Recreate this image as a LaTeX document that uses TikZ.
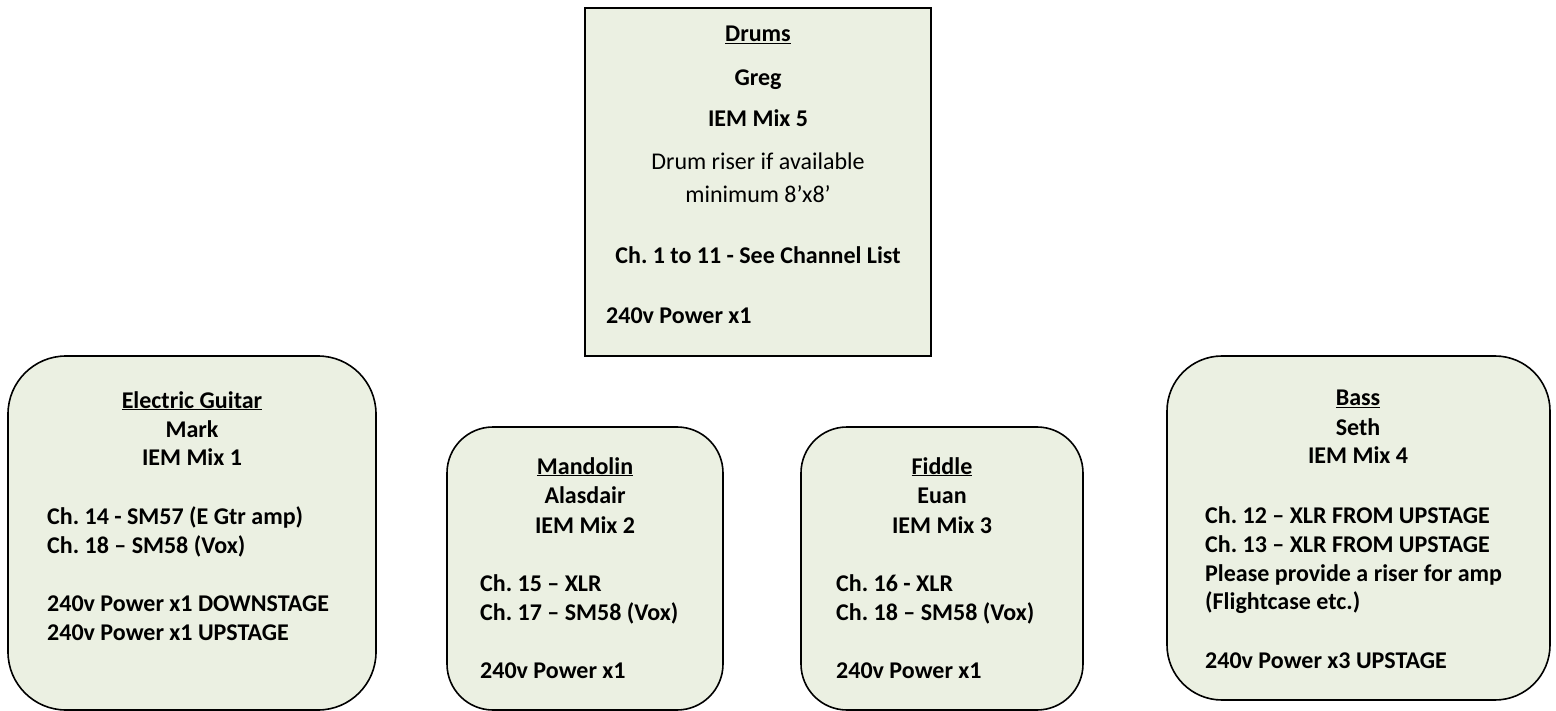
\documentclass[tikz,border=0pt]{standalone}
\usepackage{fontspec}
\setmainfont{Carlito}
\definecolor{boxfill}{RGB}{235,240,226}
\frenchspacing
\begin{document}
\begin{tikzpicture}[x=1pt,y=-1pt,
  box/.style={draw=black,line width=1.6pt,fill=boxfill,inner sep=0pt,outer sep=0pt,anchor=north west},
  ctxt/.style={anchor=base,inner sep=0pt,font=\fontsize{24}{28}\selectfont\bfseries},
  ltxt/.style={anchor=base west,inner sep=0pt,font=\fontsize{24}{28}\selectfont\bfseries},
  rtxt/.style={anchor=base,inner sep=0pt,font=\fontsize{24}{28}\selectfont}]
\useasboundingbox (0,0) rectangle (1556,711);
\fill[white] (0,0) rectangle (1556,711);
% boxes
\node[box,minimum width=346pt,minimum height=348pt] (drums) at (585,8) {};
\node[box,rounded corners=58pt,minimum width=368pt,minimum height=354pt] (gtr) at (8,356) {};
\node[box,rounded corners=46pt,minimum width=276pt,minimum height=283pt] (mand) at (447,427) {};
\node[box,rounded corners=46pt,minimum width=282pt,minimum height=283pt] (fid) at (801,427) {};
\node[box,rounded corners=55pt,minimum width=383pt,minimum height=344pt] (bass) at (1167,356) {};
% drums text
\node[ctxt] (d1) at (758,42) {\underline{Drums}};
\node[ctxt] (d2) at (758,86) {Greg};
\node[ctxt] (d3) at (758,127) {IEM Mix 5};
\node[rtxt] (d4) at (758,170) {Drum riser if available};
\node[rtxt] (d5) at (758,203) {minimum 8’x8’};
\node[ctxt] (d6) at (758,264) {Ch. 1 to 11 - See Channel List};
\node[ltxt] (d7) at (606,324) {240v Power x1};
% guitar text
\node[ctxt] (g1) at (192,408) {\underline{Electric Guitar}};
\node[ctxt] (g2) at (192,437) {Mark};
\node[ctxt] (g3) at (192,465) {IEM Mix 1};
\node[ltxt] (g4) at (47,524) {Ch. 14 - SM57 (E Gtr amp)};
\node[ltxt] (g5) at (47,553) {Ch. 18 – SM58 (Vox)};
\node[ltxt] (g6) at (47,611) {240v Power x1 DOWNSTAGE};
\node[ltxt] (g7) at (47,640) {240v Power x1 UPSTAGE};
% mandolin text
\node[ctxt] (m1) at (585,474) {\underline{Mandolin}};
\node[ctxt] (m2) at (585,503) {Alasdair};
\node[ctxt] (m3) at (585,533) {IEM Mix 2};
\node[ltxt] (m4) at (480,591) {Ch. 15 – XLR};
\node[ltxt] (m5) at (480,620) {Ch. 17 – SM58 (Vox)};
\node[ltxt] (m6) at (480,678) {240v Power x1};
% fiddle text
\node[ctxt] (f1) at (942,474) {\underline{Fiddle}};
\node[ctxt] (f2) at (942,503) {Euan};
\node[ctxt] (f3) at (942,533) {IEM Mix 3};
\node[ltxt] (f4) at (836,591) {Ch. 16 - XLR};
\node[ltxt] (f5) at (836,620) {Ch. 18 – SM58 (Vox)};
\node[ltxt] (f6) at (836,678) {240v Power x1};
% bass text
\node[ctxt] (b1) at (1358,406) {\underline{Bass}};
\node[ctxt] (b2) at (1358,435) {Seth};
\node[ctxt] (b3) at (1358,463) {IEM Mix 4};
\node[ltxt] (b4) at (1205,523) {Ch. 12 – XLR FROM UPSTAGE};
\node[ltxt] (b5) at (1205,552) {Ch. 13 – XLR FROM UPSTAGE};
\node[ltxt] (b6) at (1205,581) {Please provide a riser for amp};
\node[ltxt] (b7) at (1205,609) {(Flightcase etc.)};
\node[ltxt] (b8) at (1205,668) {240v Power x3 UPSTAGE};
\end{tikzpicture}
\end{document}
